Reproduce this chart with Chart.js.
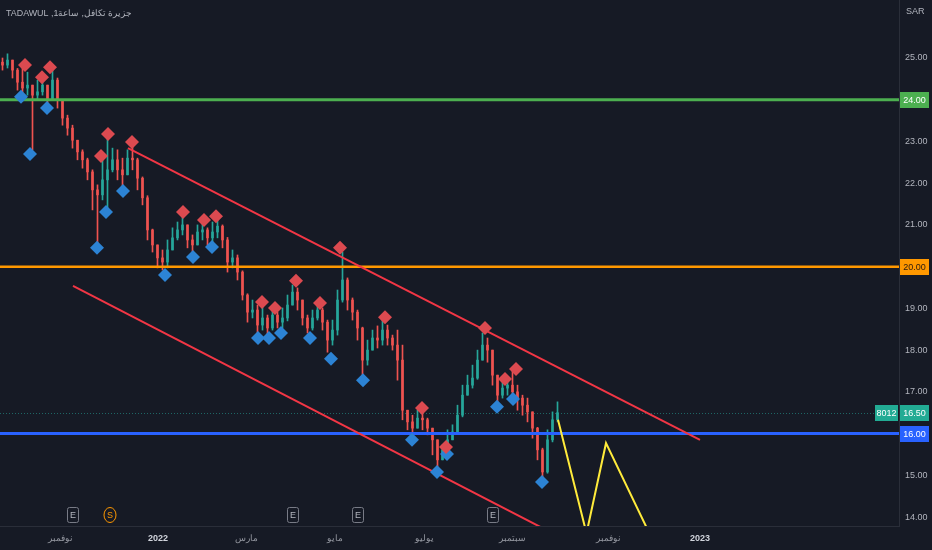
<!DOCTYPE html>
<html lang="ar">
<head>
  <meta charset="UTF-8">
  <title>جزيرة تكافل | TADAWUL</title>
  <script src="https://cdn.jsdelivr.net/npm/chart.js"></script>
  <style>
    html, body { margin: 0; padding: 0; background: #161a25; }
    #wrap { width: 932px; height: 550px; position: relative; }
  </style>
</head>
<body>
<div id="wrap"><canvas id="chart"></canvas></div>

<script>
  // --- data (one candle per slot, ~2 trading days) ---
  const firstOpen = 24.90;
  const closes = [
    24.83, 24.95, 24.71, 24.42, 24.28, 24.35, 24.11, 24.19, 24.35, 23.99,
    24.47, 23.99, 23.56, 23.32, 23.03, 22.75, 22.56, 22.27, 21.84, 21.72,
    22.08, 22.32, 22.56, 22.32, 22.20, 22.60, 22.56, 22.12, 21.65, 20.88,
    20.52, 20.21, 20.11, 20.40, 20.69, 20.88, 21.00, 20.64, 20.52, 20.83,
    20.88, 20.69, 20.83, 20.97, 20.64, 20.11, 20.21, 19.87, 19.32, 18.91,
    18.96, 18.60, 18.77, 18.53, 18.84, 18.67, 18.77, 19.08, 19.39, 19.20,
    18.77, 18.53, 18.77, 18.96, 18.67, 18.24, 18.48, 19.20, 19.68, 19.20,
    18.91, 18.53, 17.76, 18.00, 18.29, 18.24, 18.48, 18.29, 18.12, 17.76,
    16.56, 16.28, 16.13, 16.37, 16.33, 16.13, 15.85, 15.37, 15.61, 15.85,
    16.04, 16.44, 16.92, 17.16, 17.33, 17.76, 18.12, 18.00, 17.40, 16.92,
    17.09, 17.16, 17.00, 16.85, 16.68, 16.52, 16.13, 15.61, 15.08, 15.85,
    16.33, 16.50
  ];
  const highs = [
    25.00, 25.10, 24.95, 24.75, 24.76, 24.66, 24.35, 24.47, 24.57, 24.35,
    24.76, 24.52, 23.99, 23.63, 23.39, 23.03, 22.80, 22.60, 22.32, 21.96,
    22.60, 23.13, 22.84, 22.80, 22.60, 22.80, 22.89, 22.60, 22.15, 21.70,
    20.90, 20.52, 20.40, 20.64, 20.93, 21.07, 21.24, 21.00, 20.76, 21.00,
    21.02, 20.93, 21.07, 21.14, 21.00, 20.70, 20.40, 20.28, 19.90, 19.35,
    19.20, 19.08, 19.10, 18.84, 18.94, 18.91, 19.01, 19.32, 19.56, 19.49,
    19.20, 18.84, 18.96, 19.06, 19.01, 18.72, 18.72, 19.44, 20.35, 19.73,
    19.25, 18.96, 18.55, 18.24, 18.48, 18.58, 18.72, 18.60, 18.36, 18.48,
    18.12, 16.56, 16.44, 16.56, 16.54, 16.37, 16.13, 15.85, 15.73, 16.09,
    16.21, 16.68, 17.16, 17.40, 17.64, 18.00, 18.41, 18.29, 18.00, 17.40,
    17.33, 17.28, 17.50, 17.16, 16.92, 16.85, 16.52, 16.15, 15.65, 16.09,
    16.52, 16.76
  ];
  const lows = [
    24.71, 24.76, 24.52, 24.23, 24.11, 24.11, 22.80, 23.99, 24.11, 23.85,
    23.99, 23.80, 23.39, 23.15, 22.84, 22.56, 22.36, 22.08, 21.36, 20.57,
    21.60, 21.41, 22.27, 22.08, 21.91, 22.20, 22.32, 21.84, 21.48, 20.64,
    20.35, 19.97, 19.92, 19.97, 20.40, 20.64, 20.76, 20.45, 20.35, 20.52,
    20.64, 20.52, 20.57, 20.69, 20.45, 19.87, 19.97, 19.68, 19.20, 18.67,
    18.77, 18.41, 18.48, 18.39, 18.48, 18.53, 18.53, 18.70, 19.08, 18.96,
    18.60, 18.41, 18.48, 18.72, 18.48, 17.95, 18.12, 18.36, 19.15, 18.96,
    18.72, 18.24, 17.38, 17.64, 18.00, 18.05, 18.12, 18.12, 18.00, 17.28,
    16.33, 16.09, 16.01, 16.13, 16.09, 15.97, 15.49, 15.20, 15.37, 15.49,
    15.85, 16.00, 16.40, 16.92, 17.09, 17.30, 17.76, 17.71, 17.16, 16.76,
    16.85, 16.92, 16.90, 16.56, 16.44, 16.28, 15.89, 15.37, 14.94, 15.05,
    15.80, 16.28
  ];
  const opens = [firstOpen].concat(closes.slice(0, -1));

  // pivot markers (slot, price)
  const pivotHighX = [4.5, 7.9, 9.5, 19.7, 21.1, 25.9, 36.1, 40.3, 42.7, 51.9, 54.5, 58.7, 63.5, 67.5, 76.5, 83.9, 88.7, 96.5, 100.5, 102.7];
  const pivotHighY = [24.83, 24.54, 24.78, 22.65, 23.18, 22.99, 21.31, 21.12, 21.21, 19.15, 19.01, 19.66, 19.13, 20.45, 18.79, 16.61, 15.68, 18.53, 17.31, 17.55];
  const pivotLowX = [3.7, 5.5, 8.9, 18.9, 20.7, 24.1, 32.5, 38.1, 41.9, 51.1, 53.3, 55.7, 61.5, 65.7, 72.1, 81.9, 86.9, 88.9, 98.9, 102.1, 107.9];
  const pivotLowY = [24.07, 22.70, 23.80, 20.45, 21.31, 21.81, 19.80, 20.23, 20.47, 18.29, 18.29, 18.41, 18.29, 17.79, 17.28, 15.85, 15.08, 15.51, 16.64, 16.83, 14.84];

  // drawn levels and lines
  const levels = [24, 20, 16];
  const levelColors = ['#4caf50', '#ff9800', '#2962ff'];
  const upperChannel = [{ x: 25.1, y: 22.84 }, { x: 139.5, y: 15.85 }];
  const lowerChannel = [{ x: 14.1, y: 19.54 }, { x: 111.5, y: 13.52 }];
  const projection = [{ x: 111.1, y: 16.33 }, { x: 116.8, y: 13.61 }, { x: 120.7, y: 15.77 }, { x: 130.5, y: 13.33 }];

  // axes
  const tickPos = [11.5, 31.1, 48.7, 66.5, 84.3, 101.9, 121.1, 139.5];
  const tickLabels = ['نوفمبر', '2022', 'مارس', 'مايو', 'يوليو', 'سبتمبر', 'نوفمبر', '2023'];
  const priceTicks = [14, 15, 16, 17, 18, 19, 20, 21, 22, 23, 24, 25];
  const earningsX = [14.1, 58.1, 71.1, 98.1];
  const splitX = [21.5];
  const lastPrice = 16.50;
  const volumeTag = '8012';

  const X_MIN = -0.5, X_MAX = 179.3, Y_MIN = 13.785, Y_MAX = 26.39;
  const BG = '#161a25';
  const UP = '#26a69a', DOWN = '#ef5350';
  const TXT = '#b2b5be';
  const FONT = '"Liberation Sans", Arial, sans-serif';

  const candleColor = c => closes[c.dataIndex] >= opens[c.dataIndex] ? UP : DOWN;

  const levelSets = levels.map((v, i) => ({
    type: 'line',
    data: [{ x: X_MIN, y: v }, { x: X_MAX, y: v }],
    borderColor: levelColors[i],
    borderWidth: i === 1 ? 2.5 : 3,
    pointRadius: 0,
    order: 5
  }));

  // no extra room round the plot: the picture runs edge to edge
  const noPad = s => { s.paddingTop = 0; s.paddingBottom = 0; s.paddingLeft = 0; s.paddingRight = 0; };

  function tag(ctx, yPix, left, width, bg, fg, text) {
    ctx.fillStyle = bg;
    ctx.fillRect(left, Math.round(yPix) - 8, width, 16);
    ctx.fillStyle = fg;
    ctx.textAlign = 'center';
    ctx.textBaseline = 'middle';
    ctx.fillText(text, left + width / 2, Math.round(yPix) + 0.5);
  }

  const overlay = {
    id: 'overlay',
    beforeDraw(chart) {
      const ctx = chart.ctx;
      ctx.save();
      ctx.fillStyle = BG;
      ctx.fillRect(0, 0, chart.width, chart.height);
      ctx.restore();
    },
    beforeDatasetsDraw(chart) {
      const { ctx, scales: { y }, chartArea: a } = chart;
      const py = Math.round(y.getPixelForValue(lastPrice)) + 0.5;
      ctx.save();
      ctx.strokeStyle = 'rgba(38,166,154,0.55)';
      ctx.lineWidth = 1;
      ctx.setLineDash([1, 2]);
      ctx.beginPath();
      ctx.moveTo(a.left, py);
      ctx.lineTo(a.right, py);
      ctx.stroke();
      ctx.restore();
    },
    afterDraw(chart) {
      const { ctx, scales: { x, y }, chartArea: a } = chart;
      ctx.save();
      ctx.font = '9px ' + FONT;

      // title
      const title = 'جزيرة تكافل, ساعة1, TADAWUL';
      ctx.save();
      ctx.direction = 'rtl';
      ctx.textAlign = 'left';
      ctx.textBaseline = 'middle';
      ctx.fillStyle = TXT;
      const w = ctx.measureText(title).width;
      ctx.translate(6, 14);
      ctx.scale(126 / w, 1);
      ctx.fillText(title, 0, 0);
      ctx.restore();

      // currency
      ctx.fillStyle = TXT;
      ctx.textAlign = 'left';
      ctx.textBaseline = 'middle';
      ctx.fillText('SAR', 906, 12);

      // price tags on the axis
      const axL = a.right + 1, axW = 29;
      tag(ctx, y.getPixelForValue(levels[0]), axL, axW, levelColors[0], '#ffffff', levels[0].toFixed(2));
      tag(ctx, y.getPixelForValue(levels[1]), axL, axW, levelColors[1], '#2b1a10', levels[1].toFixed(2));
      tag(ctx, y.getPixelForValue(levels[2]), axL, axW, levelColors[2], '#ffffff', levels[2].toFixed(2));
      tag(ctx, y.getPixelForValue(lastPrice), axL, axW, '#22ab94', '#ffffff', lastPrice.toFixed(2));
      tag(ctx, y.getPixelForValue(lastPrice), a.right - 24, 23, '#22ab94', '#ffffff', volumeTag);

      // earnings / split markers
      const my = a.bottom - 11;
      ctx.lineWidth = 1;
      earningsX.forEach(v => {
        const px = Math.round(x.getPixelForValue(v));
        ctx.fillStyle = BG;
        ctx.strokeStyle = '#787b86';
        ctx.beginPath();
        ctx.roundRect(px - 5.5, my - 7.5, 11, 15, 2);
        ctx.fill();
        ctx.stroke();
        ctx.fillStyle = '#b2b5be';
        ctx.textAlign = 'center';
        ctx.fillText('E', px, my + 0.5);
      });
      splitX.forEach(v => {
        const px = Math.round(x.getPixelForValue(v));
        ctx.strokeStyle = '#ff9800';
        ctx.beginPath();
        ctx.ellipse(px, my, 6, 7.5, 0, 0, Math.PI * 2);
        ctx.stroke();
        ctx.fillStyle = '#ff9800';
        ctx.textAlign = 'center';
        ctx.fillText('S', px, my + 0.5);
      });
      ctx.restore();
    }
  };

  new Chart(document.getElementById('chart'), {
    type: 'bar',
    data: {
      datasets: [
        {
          label: 'wicks',
          data: closes.map((c, i) => ({ x: i, y: [lows[i], highs[i]] })),
          backgroundColor: candleColor,
          barThickness: 1,
          grouped: false,
          order: 10
        },
        {
          label: 'bodies',
          data: closes.map((c, i) => ({ x: i, y: [opens[i], c] })),
          backgroundColor: candleColor,
          barThickness: 2,
          minBarLength: 1,
          grouped: false,
          order: 9
        },
        ...levelSets,
        {
          type: 'line', data: upperChannel, borderColor: '#f23645', borderWidth: 2, pointRadius: 0, order: 4
        },
        {
          type: 'line', data: lowerChannel, borderColor: '#f23645', borderWidth: 2, pointRadius: 0, order: 4
        },
        {
          type: 'line', data: projection, borderColor: '#ffeb3b', borderWidth: 2, pointRadius: 0, order: 4
        },
        {
          type: 'scatter',
          data: pivotHighX.map((v, i) => ({ x: v, y: pivotHighY[i] })),
          pointStyle: 'rectRot', pointRadius: 7, borderWidth: 0,
          backgroundColor: '#dc4a50', order: 1
        },
        {
          type: 'scatter',
          data: pivotLowX.map((v, i) => ({ x: v, y: pivotLowY[i] })),
          pointStyle: 'rectRot', pointRadius: 7, borderWidth: 0,
          backgroundColor: '#2c83d4', order: 1
        }
      ]
    },
    options: {
      responsive: true,
      maintainAspectRatio: false,
      animation: false,
      events: [],
      layout: { padding: 0, autoPadding: false },
      plugins: { legend: { display: false }, tooltip: { enabled: false } },
      scales: {
        x: {
          type: 'linear',
          min: X_MIN,
          max: X_MAX,
          offset: false,
          grid: { display: false, drawTicks: false },
          border: { display: true, color: '#2a2e39', width: 1 },
          afterBuildTicks: s => { s.ticks = tickPos.map(v => ({ value: v })); },
          afterFit: s => { s.height = 24; noPad(s); },
          ticks: {
            autoSkip: false,
            maxRotation: 0,
            padding: 7,
            font: ctx => ({ family: FONT, size: 9, weight: /^\d+$/.test(tickLabels[ctx.index]) ? 'bold' : 'normal' }),
            color: ctx => /^\d+$/.test(tickLabels[ctx.index]) ? '#d1d4dc' : '#9598a1',
            callback: (v, i) => tickLabels[i]
          }
        },
        y: {
          position: 'right',
          min: Y_MIN,
          max: Y_MAX,
          grid: { display: false, drawTicks: false },
          border: { display: true, color: '#2a2e39', width: 1 },
          afterBuildTicks: s => { s.ticks = priceTicks.map(v => ({ value: v })); },
          afterFit: s => { s.width = 33; noPad(s); },
          ticks: {
            padding: 6,
            color: TXT,
            font: { family: FONT, size: 9 },
            callback: v => Number(v).toFixed(2)
          }
        }
      }
    },
    plugins: [overlay]
  });
</script>
</body>
</html>
